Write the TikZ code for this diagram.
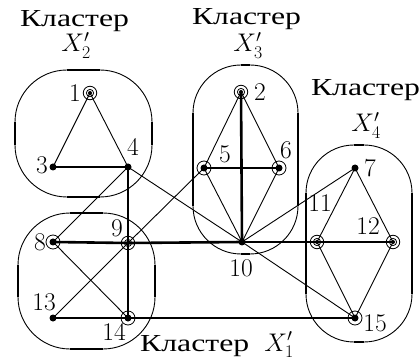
\RequirePackage{fix-cm}
\documentclass[tikz,border=0pt]{standalone}
\usepackage{graphicx}
\usepackage{fontspec}
\newfontfamily\cyr{Liberation Serif}
\newcommand\klaster{\resizebox{109pt}{16pt}{\cyr Кластер}}
\tikzset{
  vdot/.style={circle, fill, inner sep=0pt, minimum size=7pt},
  vring/.style={circle, draw, line width=0.8pt, inner sep=0pt, minimum size=14pt,
    path picture={\fill (path picture bounding box.center) circle (3.5pt);}},
  vdbl/.style={circle, draw, line width=0.8pt, inner sep=0pt, minimum size=13.5pt,
    path picture={\fill (path picture bounding box.center) circle (2pt);
      \draw[line width=0.8pt] (path picture bounding box.center) circle (3.6pt);}},
  lbl/.style={inner sep=0pt, font=\fontsize{25.5}{29}\selectfont},
  clbl/.style={inner sep=0pt, font=\fontsize{24}{28}\selectfont},
  ed/.style={line width=0.9pt},
  edt/.style={line width=2.6pt},
  clthin/.style={line width=0.9pt},
  clthick/.style={line width=2.6pt},
}
\newcommand\clusterbox[5]{%
  \draw[clthin, rounded corners=#5pt] (#1,#2) rectangle (#3,#4);
  \draw[clthick] ({#1+#5},#2) -- ({#3-#5},#2);
  \draw[clthick] ({#1+#5},#4) -- ({#3-#5},#4);
  \draw[clthick] (#1,{#2+#5}) -- (#1,{#4-#5});
  \draw[clthick] (#3,{#2+#5}) -- (#3,{#4-#5});
}
\begin{document}
\begin{tikzpicture}[x=1pt,y=-1pt]
\useasboundingbox (0,0) rectangle (420,363);
% clusters
\clusterbox{15}{70}{152}{197}{52}
\clusterbox{18}{213}{155}{349}{52}
\clusterbox{193}{65}{298}{254}{48}
\clusterbox{306}{145}{412}{342}{48}
% vertices
\node[vdbl]  (n1)  at (90,93)   {};
\node[vdbl]  (n2)  at (241,92)  {};
\node[vdot]  (n3)  at (53,167)  {};
\node[vdot]  (n4)  at (128,167) {};
\node[vring] (n5)  at (204,168) {};
\node[vring] (n6)  at (279,168) {};
\node[vdot]  (n7)  at (355,168) {};
\node[vring] (n8)  at (53,242)  {};
\node[vdbl]  (n9)  at (128,243) {};
\node[vdot]  (n10) at (242,242) {};
\node[vdbl]  (n11) at (317,242) {};
\node[vdbl]  (n12) at (393,242) {};
\node[vdot]  (n13) at (53,318)  {};
\node[vring] (n14) at (128,318) {};
\node[vring] (n15) at (355,318) {};
% thin edges
\foreach \a/\b in {1/3,1/4,2/5,2/6,5/10,6/10,4/10,10/15,4/8,13/9,9/5,8/14,10/7,7/11,7/12,11/15,12/15}
  \draw[ed] (n\a.center) -- (n\b.center);
% thick edges
\foreach \a/\b in {3/4,4/9,9/14,5/6,2/10,8/9,9/10,10/11,11/12,13/14,14/15}
  \draw[edt] (n\a.center) -- (n\b.center);
% vertex labels
\node[lbl] (l1)  at (75,93)   {1};
\node[lbl] (l2)  at (260,92)  {2};
\node[lbl] (l3)  at (42,165)  {3};
\node[lbl] (l4)  at (133,147) {4};
\node[lbl] (l5)  at (225,154) {5};
\node[lbl] (l6)  at (286,150) {6};
\node[lbl] (l7)  at (370,168) {7};
\node[lbl] (l8)  at (40,242)  {8};
\node[lbl] (l9)  at (117,228) {9};
\node[lbl] (l10) at (241,268) {10};
\node[lbl] (l11) at (320,203) {11};
\node[lbl] (l12) at (368,226) {12};
\node[lbl] (l13) at (44,302)  {13};
\node[lbl] (l14) at (114,332) {14};
\node[lbl] (l15) at (375,323) {15};
% cluster labels
\node[clbl, anchor=base] (c2) at (74.5,27) {\klaster};
\node[lbl, anchor=base]  (x2) at (76,52)   {$X'_2$};
\node[clbl, anchor=base] (c3) at (246.5,25) {\klaster};
\node[lbl, anchor=base]  (x3) at (248,52)  {$X'_3$};
\node[clbl, anchor=base] (c4) at (365.5,96) {\klaster};
\node[lbl, anchor=base]  (x4) at (366,132) {$X'_4$};
\node[clbl, anchor=base west] (c1) at (140,351) {\klaster};
\node[lbl, anchor=base east]  (x1) at (294,351) {$X'_1$};
\end{tikzpicture}
\end{document}
